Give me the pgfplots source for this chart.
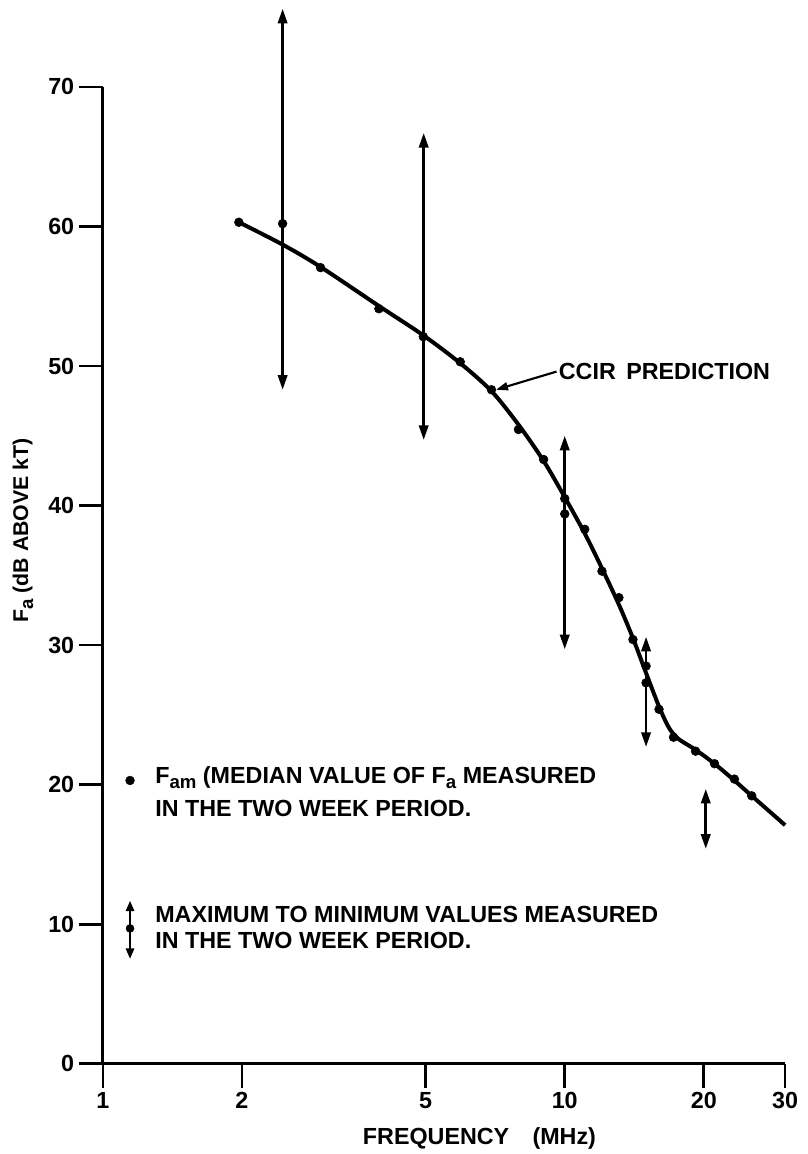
\documentclass[border=0pt]{standalone}
\usepackage{pgfplots}
\pgfplotsset{compat=1.18}
\usepackage{pgfplotstable}
\usepackage{fontspec}
\setmainfont{Liberation Sans}
\usetikzlibrary{arrows.meta}

% CCIR predicted noise level (curve)
\pgfplotstableread{
f     fa
1.97  60.3
2.45  58.7
2.96  57.1
3.96  54.3
4.94  52.2
5.94  50.2
6.94  48.2
7.94  45.8
9.0   43.2
10.0  40.6
11.05 38.0
12.04 35.5
13.1  32.9
14.05 30.5
15.0  28.0
16.0  25.6
16.8  24.1
17.6  23.3
19.2  22.5
21.1  21.5
23.3  20.3
25.4  19.2
30.0  17.1
}\ccir

% measured median values F_am
\pgfplotstableread{
f     fam
1.97  60.3
2.45  60.2
2.96  57.05
3.96  54.1
4.94  52.1
5.94  50.3
6.94  48.3
7.94  45.45
9.0   43.3
10.0  40.5
10.0  39.4
11.05 38.3
12.04 35.3
13.1  33.4
14.05 30.4
15.0  28.5
15.0  27.3
16.0  25.4
17.2  23.4
19.2  22.4
21.1  21.5
23.3  20.4
25.4  19.2
}\medians

% lowered subscript as in the lettering
\newcommand\lo[1]{\raisebox{-0.45ex}{\fontsize{14}{14}\selectfont\bfseries #1}}
\newcommand\txtfont{\fontsize{17.5}{20}\selectfont\bfseries}

\begin{document}
\begin{tikzpicture}[
  minmax/.style={line width=2pt, mark=none,
    {Triangle[length=11pt,width=7pt]}-{Triangle[length=11pt,width=7pt]}},
  smallminmax/.style={line width=2pt, mark=none,
    {Triangle[length=8pt,width=6pt]}-{Triangle[length=8pt,width=6pt]}},
  txt/.style={font=\txtfont, inner sep=0pt, anchor=west},
]
\begin{axis}[
  xmode=log, xmin=1, xmax=30, ymin=0, ymax=70,
  scale only axis, width=512.25pt, height=733.5pt,
  axis lines=left, axis line style={-, line width=2.2pt},
  xtick={1,2,5,10,20,30}, xticklabels={1,2,5,10,20,30},
  ytick={0,10,...,70},
  xminorticks=false,
  tick align=outside, major tick length=18pt,
  tick style={line width=2pt, black},
  ticklabel style={font=\txtfont},
  /pgf/number format/assume math mode=true,
  clip=false,
  xlabel={FREQUENCY\hspace{1em}(MHz)},
  ylabel={F\lo{a} (dB ABOVE kT)},
  xlabel style={font=\txtfont, at={(axis description cs:0.552,-0.0767)}, anchor=center},
  ylabel style={font=\fontsize{16}{18}\selectfont\bfseries,
                at={(axis description cs:-0.117,0.546)}, anchor=center},
]
\coordinate (sw) at (rel axis cs:0,0);
\coordinate (ne) at (rel axis cs:1,1);

% prediction curve and measured medians
\addplot[line width=3pt, smooth, tension=0.5, mark=none] table[x=f,y=fa]{\ccir};
\addplot[only marks, mark=*, mark size=3.3pt] table[x=f,y=fam]{\medians};

% maximum-to-minimum ranges
\addplot[minmax] coordinates {(2.45,48.3) (2.45,75.6)};
\addplot[minmax] coordinates {(4.95,44.7) (4.95,66.7)};
\addplot[minmax] coordinates {(10.0,29.7) (10.0,45.0)};
\addplot[minmax] coordinates {(15.0,22.7) (15.0,30.6)};
\addplot[minmax] coordinates {(20.2,15.4) (20.2,19.7)};

% curve annotation
\draw[line width=1.6pt, -{Triangle[length=9pt,width=6pt]}]
  (axis cs:9.6,49.6) -- (axis cs:7.1,48.3);
\node[txt] at (axis cs:9.7,49.6) {CCIR\hspace{0.45em}PREDICTION};

% key
\addplot[only marks, mark=*, mark size=3.3pt] coordinates {(1.145,20.3)};
\node[txt] at (axis cs:1.297,20.5) {F\lo{am} (MEDIAN VALUE OF F\lo{a} MEASURED};
\node[txt] at (axis cs:1.297,18.3) {IN THE TWO WEEK PERIOD.};
\addplot[smallminmax] coordinates {(1.145,7.5) (1.145,11.7)};
\addplot[only marks, mark=*, mark size=3pt] coordinates {(1.145,9.7)};
\node[txt] at (axis cs:1.297,10.7) {MAXIMUM TO MINIMUM VALUES MEASURED};
\node[txt] at (axis cs:1.297,8.8) {IN THE TWO WEEK PERIOD.};
\end{axis}
\path ([shift={(-77.25pt,-66.75pt)}]sw) rectangle ([shift={(16.5pt,65.25pt)}]ne);
\end{tikzpicture}
\end{document}
